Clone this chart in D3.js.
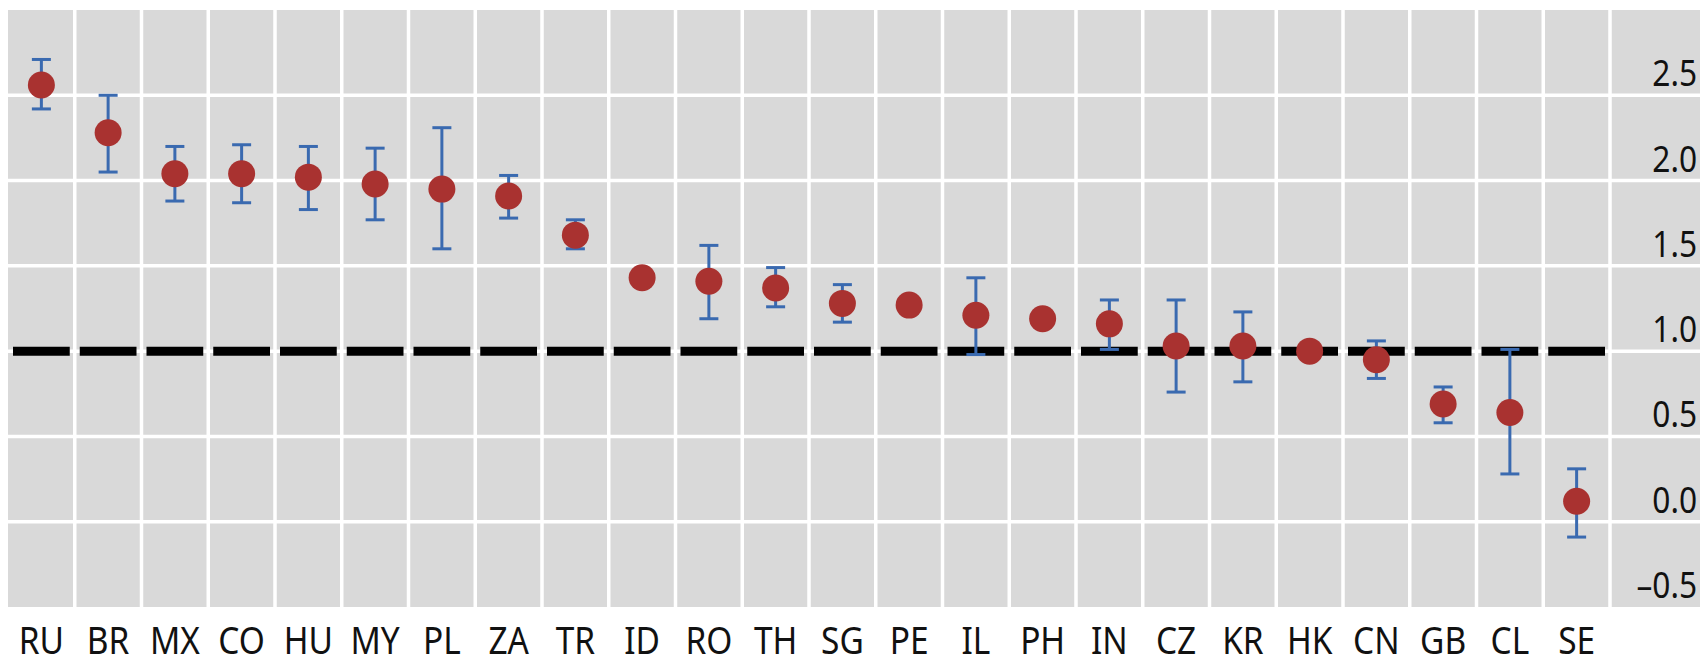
<!DOCTYPE html>
<meta charset="utf-8">
<script src="https://cdn.jsdelivr.net/npm/d3@7"></script>
<style>
  body { margin: 0; background: #fff; }
  text { font-family: "Noto Sans", "Open Sans", sans-serif; fill: #111; }
</style>
<div id="chart"></div>
<script>

// country codes, point estimates and error bar ends (null = no bar)
var countries = ["RU","BR","MX","CO","HU","MY","PL","ZA","TR","ID","RO","TH","SG","PE","IL","PH","IN","CZ","KR","HK","CN","GB","CL","SE"];
var estimates = [2.56, 2.28, 2.04, 2.04, 2.02, 1.98, 1.95, 1.91, 1.68, 1.43, 1.41, 1.37, 1.28, 1.27, 1.21, 1.19, 1.16, 1.03, 1.03, 1.00, 0.95, 0.69, 0.64, 0.12];
var upper = [2.71, 2.50, 2.20, 2.21, 2.20, 2.19, 2.31, 2.03, 1.77, null, 1.62, 1.49, 1.39, null, 1.43, null, 1.30, 1.30, 1.23, null, 1.06, 0.79, 1.01, 0.31];
var lower = [2.42, 2.05, 1.88, 1.87, 1.83, 1.77, 1.60, 1.78, 1.60, null, 1.19, 1.26, 1.17, null, 0.98, null, 1.01, 0.76, 0.82, null, 0.84, 0.58, 0.28, -0.09];
var yTicks = [-0.5, 0.0, 0.5, 1.0, 1.5, 2.0, 2.5];
var refLine = 1.0;

var W = 1704, H = 656;
var pLeft = 8, pRight = 1610, bgRight = 1700, pTop = 10, pBottom = 607;
var squeeze = 0.88; // labels in the original use a narrower face

var svg = d3.select("#chart").append("svg")
    .attr("width", W)
    .attr("height", H);

var x = d3.scaleBand()
  .domain(countries)
  .range([pLeft, pRight])
  .padding(0);

var y = d3.scaleLinear()
  .domain([-0.5, 3.0])
  .range([pBottom, pTop]);

// gray panel
svg.append("rect")
  .attr("x", pLeft).attr("y", pTop)
  .attr("width", bgRight - pLeft).attr("height", pBottom - pTop)
  .attr("fill", "#d9d9d9");

// white gridlines
svg.append("g").selectAll("line")
  .data(yTicks.filter(function(d) { return d > -0.5; }))
  .enter().append("line")
    .attr("x1", pLeft).attr("x2", bgRight)
    .attr("y1", function(d) { return y(d); })
    .attr("y2", function(d) { return y(d); })
    .attr("stroke", "#fff")
    .attr("stroke-width", 3.5);

svg.append("g").selectAll("line")
  .data(countries)
  .enter().append("line")
    .attr("x1", function(d) { return x(d) + x.bandwidth(); })
    .attr("x2", function(d) { return x(d) + x.bandwidth(); })
    .attr("y1", pTop).attr("y2", pBottom)
    .attr("stroke", "#fff")
    .attr("stroke-width", 3.5);

// dashed reference line, one dash per column
svg.append("g").selectAll("line")
  .data(countries)
  .enter().append("line")
    .attr("x1", function(d) { return x(d) + 5; })
    .attr("x2", function(d) { return x(d) + x.bandwidth() - 5; })
    .attr("y1", y(refLine)).attr("y2", y(refLine))
    .attr("stroke", "#000")
    .attr("stroke-width", 9);

// y labels sit above their gridline, right aligned
svg.append("g").selectAll("text")
  .data(yTicks)
  .enter().append("text")
    .attr("transform", function(d) { return "translate(1697," + (y(d) - 9) + ") scale(" + squeeze + ",1)"; })
    .attr("text-anchor", "end")
    .attr("font-size", 36)
    .text(function(d) { return d < 0 ? "\u2013" + Math.abs(d).toFixed(1) : d.toFixed(1); });

// x labels
svg.append("g").selectAll("text")
  .data(countries)
  .enter().append("text")
    .attr("transform", function(d) { return "translate(" + (x(d) + x.bandwidth() / 2) + ",654) scale(" + squeeze + ",1)"; })
    .attr("text-anchor", "middle")
    .attr("font-size", 38)
    .text(function(d) { return d; });

var rows = countries.map(function(c, i) {
  return {c: c, v: estimates[i], hi: upper[i], lo: lower[i]};
});
var withBars = rows.filter(function(d) { return d.hi !== null; });

// error bars
var bars = svg.append("g")
  .attr("stroke", "#3a6ab0")
  .attr("stroke-width", 3);

bars.selectAll(".stem")
  .data(withBars)
  .enter().append("line")
    .attr("x1", function(d) { return x(d.c) + x.bandwidth() / 2; })
    .attr("x2", function(d) { return x(d.c) + x.bandwidth() / 2; })
    .attr("y1", function(d) { return y(d.hi); })
    .attr("y2", function(d) { return y(d.lo); });

["hi", "lo"].forEach(function(k) {
  bars.selectAll(".cap-" + k)
    .data(withBars)
    .enter().append("line")
      .attr("x1", function(d) { return x(d.c) + x.bandwidth() / 2 - 9.5; })
      .attr("x2", function(d) { return x(d.c) + x.bandwidth() / 2 + 9.5; })
      .attr("y1", function(d) { return y(d[k]); })
      .attr("y2", function(d) { return y(d[k]); });
});

// points
svg.append("g").selectAll("circle")
  .data(rows)
  .enter().append("circle")
    .attr("cx", function(d) { return x(d.c) + x.bandwidth() / 2; })
    .attr("cy", function(d) { return y(d.v); })
    .attr("r", 13.5)
    .attr("fill", "#a93230");

</script>
